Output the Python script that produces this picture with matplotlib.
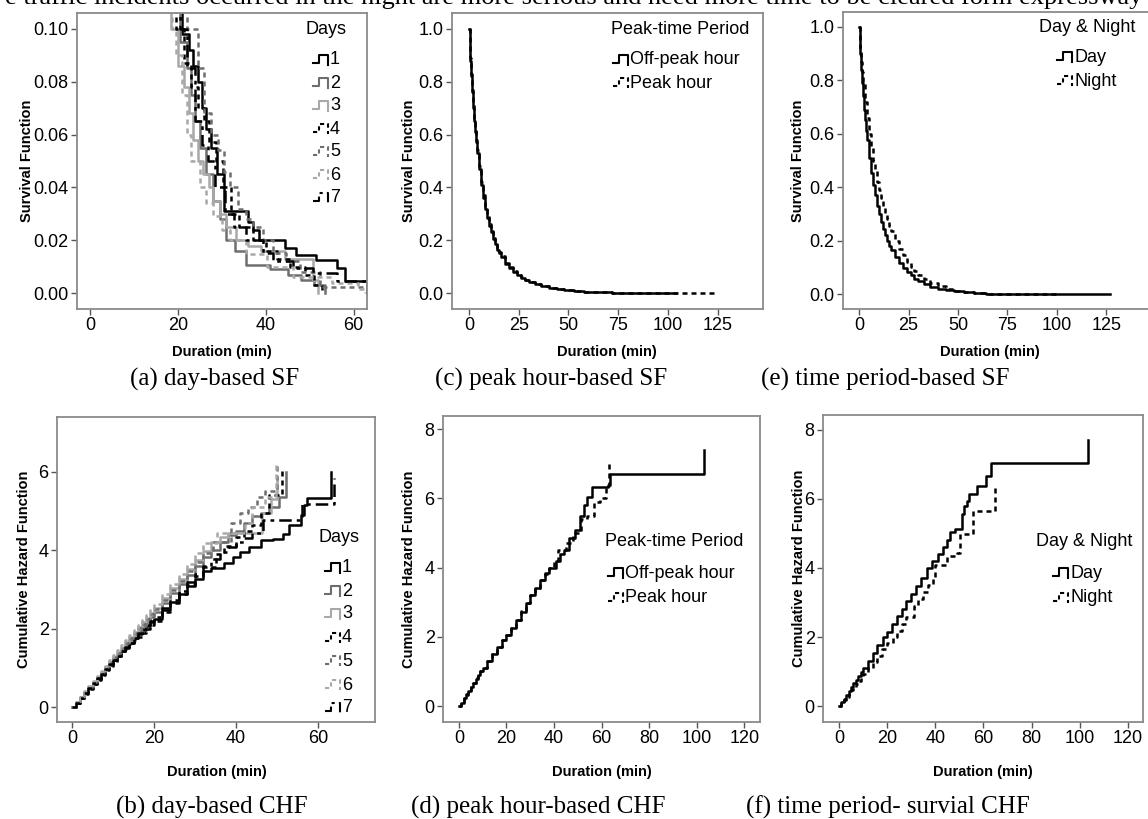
import matplotlib.pyplot as plt

plt.rcParams['font.family'] = ['Liberation Sans', 'DejaVu Sans']

W, H = 1148, 819

# ---- (a) day-based survival function (zoomed 0-0.10) ----
day_labels = ['1', '2', '3', '4', '5', '6', '7']
sf_day_t = [
    [17, 21, 22.5, 23.5, 24.5, 25.5, 26.5, 27.5, 29, 30.5, 36, 37, 38.5, 44.3, 47, 51.4, 56.2, 58, 63.0],
    [17, 20.5, 22, 23, 24, 25, 26.5, 28, 29.5, 31, 33, 35.5, 41, 45, 48, 51, 53.5],
    [16, 18.5, 20, 21.5, 22.5, 23.5, 24.5, 25.7, 27, 28, 29.5, 31, 33.3, 36, 39, 44.3, 50.8, 52],
    [17, 19.5, 21.5, 23, 24.5, 26, 27, 28.7, 30.3, 32, 34, 37, 40, 42.5, 45.5, 49, 51, 52.7],
    [19, 22, 24.6, 26, 27.5, 29.2, 30.5, 31.8, 33.7, 35.5, 37, 39.4, 41.6, 44.7, 47.7, 52.3, 63.0],
    [16, 18.6, 19.5, 21, 22, 23.1, 25, 26.5, 28, 30, 31.8, 35.6, 40.2, 46.2, 55, 61, 62.5],
    [18, 20.5, 22, 24, 25.5, 26.9, 28.5, 30.8, 32.8, 35.6, 39.4, 41.6, 46.2, 50.8, 56.2, 63.0],
]
sf_day_s = [
    [0.12, 0.098, 0.092, 0.086, 0.08, 0.07, 0.062, 0.055, 0.045, 0.031, 0.027, 0.024, 0.02, 0.017, 0.0145, 0.0125, 0.0095, 0.0045, 0.0],
    [0.12, 0.095, 0.085, 0.075, 0.065, 0.055, 0.045, 0.035, 0.028, 0.02, 0.016, 0.0105, 0.009, 0.007, 0.005, 0.003, 0.0],
    [0.12, 0.10, 0.086, 0.078, 0.068, 0.058, 0.05, 0.045, 0.04, 0.035, 0.03, 0.025, 0.02, 0.018, 0.016, 0.0131, 0.005, 0.0],
    [0.12, 0.10, 0.087, 0.078, 0.07, 0.065, 0.057, 0.05, 0.04, 0.03, 0.025, 0.02, 0.016, 0.013, 0.01, 0.007, 0.003, 0.0],
    [0.12, 0.10, 0.085, 0.068, 0.06, 0.054, 0.046, 0.04, 0.032, 0.028, 0.025, 0.02, 0.015, 0.012, 0.008, 0.0025, 0.0025],
    [0.12, 0.10, 0.09, 0.075, 0.06, 0.05, 0.04, 0.034, 0.029, 0.024, 0.02, 0.0148, 0.0099, 0.0061, 0.004, 0.0014, 0.0],
    [0.12, 0.10, 0.085, 0.065, 0.056, 0.05, 0.04, 0.03, 0.025, 0.02, 0.015, 0.012, 0.0095, 0.0075, 0.0045, 0.0],
]

# ---- (b) day-based cumulative hazard ----
chf_day_t = [
    [0, 1, 2, 3, 4, 5, 6, 7, 8, 9, 10, 11, 12, 13, 14, 15, 16, 17, 18, 19, 20, 22, 24, 26, 28, 30, 32, 34, 37, 39.3, 41, 43.2, 46, 49, 51.4, 53, 55.8, 56.5, 57.3, 63.2],
    [0, 1, 2, 3, 4, 5, 6, 7, 8, 9, 10, 11, 12, 13, 14, 15, 16, 17, 18, 19, 20, 22, 24, 26, 28, 30, 32, 34, 36, 38, 40, 42, 44, 46, 48, 50.5, 52.2],
    [0, 1, 2, 3, 4, 5, 6, 7, 8, 9, 10, 11, 12, 13, 14, 15, 16, 17, 18, 19, 20, 22, 24, 26, 28, 30, 32, 34, 36, 38, 41, 46.3, 48.5, 50.0],
    [0, 1, 2, 3, 4, 5, 6, 7, 8, 9, 10, 11, 12, 13, 14, 15, 16, 17, 18, 19, 20, 22, 24, 26, 28, 30, 32, 35, 37, 40, 42, 44, 46, 48, 51.1],
    [0, 1, 2, 3, 4, 5, 6, 7, 8, 9, 10, 11, 12, 13, 14, 15, 16, 17, 18, 19, 20, 22, 24, 26, 28, 30, 32, 34.4, 38.9, 41, 43, 45, 47, 49.9],
    [0, 1, 2, 3, 4, 5, 6, 7, 8, 9, 10, 11, 12, 13, 14, 15, 16, 17, 18, 19, 20, 22, 24, 26, 28, 30, 32, 35.3, 42.2, 44, 47, 49.8],
    [0, 1, 2, 3, 4, 5, 6, 7, 8, 9, 10, 11, 12, 13, 14, 15, 16, 17, 18, 19, 20, 22, 24, 26, 28, 30, 32, 34, 36, 38, 40, 42, 44, 46.7, 56, 64],
]
chf_day_h = [
    [0, 0.1, 0.23, 0.36, 0.48, 0.6, 0.72, 0.85, 0.97, 1.08, 1.2, 1.3, 1.42, 1.52, 1.63, 1.75, 1.86, 1.96, 2.06, 2.16, 2.26, 2.47, 2.67, 2.88, 3.08, 3.27, 3.46, 3.55, 3.68, 3.83, 3.95, 4.08, 4.25, 4.3, 4.42, 4.65, 4.9, 5.15, 5.33, 6.0],
    [0, 0.12, 0.25, 0.38, 0.5, 0.62, 0.74, 0.86, 0.98, 1.1, 1.22, 1.34, 1.46, 1.58, 1.7, 1.83, 1.95, 2.07, 2.18, 2.3, 2.42, 2.66, 2.9, 3.13, 3.37, 3.6, 3.82, 4.02, 4.2, 4.38, 4.5, 4.7, 4.88, 4.95, 5.1, 5.35, 6.0],
    [0, 0.12, 0.26, 0.39, 0.52, 0.65, 0.78, 0.9, 1.03, 1.16, 1.28, 1.4, 1.52, 1.65, 1.78, 1.92, 2.04, 2.16, 2.28, 2.4, 2.52, 2.78, 3.03, 3.27, 3.52, 3.76, 3.98, 4.2, 4.35, 4.45, 4.45, 4.95, 5.3, 5.85],
    [0, 0.1, 0.22, 0.34, 0.46, 0.58, 0.7, 0.82, 0.94, 1.05, 1.16, 1.27, 1.38, 1.49, 1.6, 1.7, 1.8, 1.9, 2.0, 2.1, 2.2, 2.42, 2.65, 2.88, 3.12, 3.35, 3.58, 3.9, 4.1, 4.35, 4.5, 4.65, 4.95, 5.4, 6.1],
    [0, 0.12, 0.25, 0.38, 0.51, 0.64, 0.77, 0.89, 1.02, 1.14, 1.27, 1.39, 1.51, 1.64, 1.76, 1.89, 2.01, 2.13, 2.25, 2.37, 2.49, 2.74, 2.98, 3.22, 3.46, 3.7, 3.94, 4.2, 4.7, 4.95, 5.1, 5.35, 5.5, 6.2],
    [0, 0.13, 0.27, 0.41, 0.54, 0.67, 0.8, 0.93, 1.06, 1.19, 1.32, 1.45, 1.58, 1.71, 1.84, 1.97, 2.1, 2.23, 2.36, 2.49, 2.62, 2.88, 3.14, 3.4, 3.66, 3.92, 4.18, 4.45, 4.7, 5.1, 5.35, 6.25],
    [0, 0.11, 0.23, 0.36, 0.49, 0.61, 0.73, 0.85, 0.97, 1.09, 1.2, 1.31, 1.42, 1.53, 1.64, 1.76, 1.88, 1.99, 2.1, 2.2, 2.3, 2.52, 2.74, 2.96, 3.18, 3.4, 3.6, 3.78, 3.95, 4.08, 4.2, 4.32, 4.45, 4.76, 5.17, 5.85],
]

# ---- (c) peak-hour survival function ----
peak_labels = ['Off-peak hour', 'Peak hour']
sf_peak_t = [
    [0, 0.5, 1, 1.5, 2, 2.5, 3, 3.5, 4, 5, 6, 7, 8, 9, 10, 11, 12, 13, 14, 15, 16, 18, 20, 22, 24, 26, 28, 30, 33, 36, 40, 44, 48, 53, 58, 64, 72, 85, 104],
    [0, 0.5, 1, 1.5, 2, 2.5, 3, 3.5, 4, 5, 6, 7, 8, 9, 10, 11, 12, 13, 14, 15, 16, 18, 20, 22, 24, 26, 28, 30, 33, 36, 40, 44, 48, 53, 58, 64, 72, 85, 125],
]
sf_peak_s = [
    [1.0, 0.88, 0.82, 0.76, 0.70, 0.65, 0.61, 0.57, 0.53, 0.47, 0.41, 0.36, 0.32, 0.285, 0.255, 0.23, 0.205, 0.185, 0.165, 0.15, 0.135, 0.11, 0.095, 0.08, 0.068, 0.058, 0.05, 0.042, 0.033, 0.026, 0.019, 0.014, 0.01, 0.007, 0.005, 0.003, 0.002, 0.001, 0.0],
    [1.0, 0.89, 0.83, 0.77, 0.71, 0.66, 0.62, 0.58, 0.54, 0.48, 0.42, 0.37, 0.33, 0.29, 0.26, 0.235, 0.21, 0.19, 0.17, 0.155, 0.14, 0.115, 0.098, 0.083, 0.07, 0.06, 0.051, 0.043, 0.034, 0.027, 0.02, 0.015, 0.011, 0.008, 0.005, 0.003, 0.002, 0.001, 0.001],
]

# ---- (d) peak-hour cumulative hazard ----
chf_peak_t = [
    [0, 1, 2, 3, 4, 5, 6, 7, 8, 9, 10, 12, 14, 16, 18, 20, 22, 24, 26, 28, 30, 32, 34, 36, 38, 40.7, 42.5, 44, 46.3, 48.8, 51, 52.6, 54, 55.9, 62.5, 63.5, 103.2],
    [0, 1, 2, 3, 4, 5, 6, 7, 8, 9, 10, 12, 14, 16, 18, 20, 22, 24, 26, 28, 30, 32, 34, 36, 38, 40, 41.5, 45, 48, 51.5, 54, 57, 59.3, 62, 63.1],
]
chf_peak_h = [
    [0, 0.1, 0.22, 0.33, 0.45, 0.56, 0.68, 0.79, 0.9, 1.0, 1.1, 1.3, 1.5, 1.7, 1.9, 2.05, 2.25, 2.48, 2.72, 2.98, 3.2, 3.42, 3.65, 3.85, 4.0, 4.2, 4.4, 4.5, 4.85, 5.1, 5.5, 5.8, 6.05, 6.33, 6.4, 6.7, 7.4],
    [0, 0.1, 0.22, 0.34, 0.46, 0.57, 0.68, 0.8, 0.9, 1.0, 1.1, 1.3, 1.52, 1.72, 1.9, 2.05, 2.27, 2.5, 2.74, 2.98, 3.2, 3.42, 3.63, 3.83, 4.0, 4.2, 4.5, 4.7, 5.0, 5.4, 5.5, 5.9, 6.0, 6.35, 7.05],
]

# ---- (e) day/night survival function ----
dn_labels = ['Day', 'Night']
sf_dn_t = [
    [0, 0.5, 1, 1.5, 2, 2.5, 3, 3.5, 4, 5, 6, 7, 8, 9, 10, 11, 12, 13, 14, 15, 16, 18, 20, 22, 24, 26, 28, 30, 33, 36, 40, 44, 48, 53, 58, 64, 75, 127],
    [0, 0.5, 1, 1.5, 2, 3, 4, 5, 6, 7, 8, 9, 10, 11, 12, 13, 14, 15, 16, 18, 20, 22, 24, 26, 28, 30, 33, 36, 40, 44, 48, 53, 58, 64, 100],
]
sf_dn_s = [
    [1.0, 0.9, 0.84, 0.79, 0.74, 0.69, 0.65, 0.61, 0.575, 0.51, 0.455, 0.41, 0.37, 0.33, 0.3, 0.27, 0.245, 0.22, 0.2, 0.18, 0.165, 0.14, 0.115, 0.098, 0.082, 0.07, 0.058, 0.048, 0.037, 0.028, 0.02, 0.014, 0.01, 0.007, 0.004, 0.002, 0.001, 0.001],
    [1.0, 0.92, 0.87, 0.83, 0.79, 0.72, 0.66, 0.6, 0.55, 0.5, 0.46, 0.42, 0.39, 0.36, 0.33, 0.3, 0.28, 0.255, 0.235, 0.2, 0.17, 0.145, 0.12, 0.1, 0.085, 0.07, 0.055, 0.042, 0.03, 0.02, 0.013, 0.008, 0.005, 0.002, 0.001],
]

# ---- (f) day/night cumulative hazard ----
chf_dn_t = [
    [0, 1, 2, 3, 4, 5, 6, 7, 8, 9, 10, 12, 14, 16, 18.4, 20, 22, 24, 26, 28, 30, 32, 34, 36.4, 38.5, 41, 43, 45, 46, 48.2, 51, 52, 53, 54, 57.4, 61, 63, 103.5],
    [0, 1, 2, 3, 4, 5, 6, 7, 8, 9, 10, 12, 14, 16, 18, 20, 22.3, 24, 26, 28, 31, 33, 35, 37, 39, 40, 45, 48.9, 50.2, 55.8, 64.8],
]
chf_dn_h = [
    [0, 0.11, 0.22, 0.33, 0.44, 0.55, 0.66, 0.77, 0.88, 1.0, 1.1, 1.32, 1.54, 1.76, 2.0, 2.16, 2.38, 2.6, 2.82, 3.03, 3.25, 3.47, 3.7, 4.0, 4.2, 4.4, 4.6, 4.8, 5.05, 5.13, 5.55, 5.8, 5.95, 6.15, 6.36, 6.65, 7.04, 7.72],
    [0, 0.09, 0.18, 0.27, 0.36, 0.46, 0.55, 0.64, 0.73, 0.82, 0.92, 1.1, 1.28, 1.46, 1.64, 1.82, 2.0, 2.17, 2.38, 2.58, 2.9, 3.1, 3.3, 3.52, 3.72, 4.1, 4.35, 4.42, 4.97, 5.65, 6.34],
]

BLACK, DARK, LIGHT = '#000000', '#6e6e6e', '#a8a8a8'
DOT = (0, (2, 1.6))
day_styles = [(BLACK, '-'), (DARK, '-'), (LIGHT, '-'), (BLACK, DOT), (DARK, DOT), (LIGHT, DOT),
              (BLACK, (0, (5, 2, 1.5, 2)))]
two_styles = [(BLACK, '-'), (BLACK, DOT)]

TICK_FS = 13
LEG_FS = 13
LAB_FS = 10.5
CAP_FS = 18

fig = plt.figure(figsize=(W / 100, H / 100), dpi=100)


def make_ax(box, xlim, ylim, xticks, yticks, yfmt, ylabel, xlab_px, ylab_x):
    l, t, r, b = box
    ax = fig.add_axes([l / W, 1 - b / H, (r - l) / W, (b - t) / H])
    ax.set_xlim(*xlim)
    ax.set_ylim(*ylim)
    ax.set_xticks(xticks)
    ax.set_yticks(yticks)
    ax.set_yticklabels([yfmt.format(v) for v in yticks])
    for s in ax.spines.values():
        s.set_color('#8a8a8a')
        s.set_linewidth(1.3)
    ax.tick_params(direction='out', length=4, width=1, color='#555555',
                   labelsize=TICK_FS, pad=2)
    ax.set_ylabel(ylabel, fontsize=LAB_FS, fontweight='bold')
    ax.set_xlabel('Duration (min)', fontsize=LAB_FS, fontweight='bold')
    ax.xaxis.set_label_coords((xlab_px[0] - l) / (r - l), (b - xlab_px[1]) / (b - t))
    ax.yaxis.set_label_coords((ylab_x - l) / (r - l), 0.5)
    return ax


def legend_block(title, tx, ty, labels, styles, sx, ys):
    fig.text(tx / W, 1 - ty / H, title, fontsize=LEG_FS, va='center', ha='left')
    for lab, (c, ls), y in zip(labels, styles, ys):
        xs = [sx, sx + 6, sx + 6, sx + 15, sx + 15]
        yy = [y + 3, y + 3, y - 5, y - 5, y + 5]
        fig.add_artist(plt.Line2D([v / W for v in xs], [1 - v / H for v in yy],
                                  color=c, linestyle=ls, linewidth=1.5,
                                  transform=fig.transFigure))
        fig.text((sx + 17) / W, 1 - y / H, lab, fontsize=LEG_FS, va='center', ha='left')


def caption(x, y, s):
    fig.text(x / W, 1 - y / H, s, fontsize=CAP_FS, family=['Liberation Serif', 'DejaVu Serif'],
             ha='center', va='center')


# partially cut line of body text at the top (cut in the reference too)
fig.text(0.5, 1 - 4 / H, 'e traffic incidents occurred in the night are more serious and need more time '
         'to be cleared form expressway', fontsize=19,
         family=['Liberation Serif', 'DejaVu Serif'], ha='center', va='baseline')

# (a)
ax = make_ax((77, 13, 367, 309), (-2.95, 63.05), (-0.006, 0.106), [0, 20, 40, 60],
             [0.0, 0.02, 0.04, 0.06, 0.08, 0.10], '{:.2f}', 'Survival Function',
             (222, 345), 34)
for t, s, (c, ls) in zip(sf_day_t, sf_day_s, day_styles):
    ax.step(t, s, where='post', color=c, linestyle=ls, linewidth=1.8)
legend_block('Days', 306, 29, day_labels, day_styles, 313, [60, 83, 106, 129, 152, 175, 198])
caption(215, 379, '(a) day-based SF')

# (c)
ax = make_ax((452, 13, 763, 309), (-8.5, 147.7), (-0.06, 1.06), [0, 25, 50, 75, 100, 125],
             [0.0, 0.2, 0.4, 0.6, 0.8, 1.0], '{:.1f}', 'Survival Function',
             (607, 345), 416)
for t, s, (c, ls) in zip(sf_peak_t, sf_peak_s, two_styles):
    ax.step(t, s, where='post', color=c, linestyle=ls, linewidth=1.8)
legend_block('Peak-time Period', 611, 30, peak_labels, two_styles, 613, [60, 83])
caption(551, 379, '(c) peak hour-based SF')

# (e)
ax = make_ax((843, 12, 1152, 309), (-8.1, 148), (-0.056, 1.056), [0, 25, 50, 75, 100, 125],
             [0.0, 0.2, 0.4, 0.6, 0.8, 1.0], '{:.1f}', 'Survival Function',
             (990, 345), 805)
for t, s, (c, ls) in zip(sf_dn_t, sf_dn_s, two_styles):
    ax.step(t, s, where='post', color=c, linestyle=ls, linewidth=1.8)
legend_block('Day & Night', 1039, 27, dn_labels, two_styles, 1057, [57, 81])
caption(885, 379, '(e) time period-based SF')

# (b)
ax = make_ax((57, 417, 375, 722), (-3.66, 73.9), (-0.38, 7.4), [0, 20, 40, 60],
             [0, 2, 4, 6], '{:d}', 'Cumulative Hazard Function', (217, 765), 31)
for t, h, (c, ls) in zip(chf_day_t, chf_day_h, day_styles):
    ax.step(t, h, where='post', color=c, linestyle=ls, linewidth=1.8)
legend_block('Days', 319, 537, day_labels, day_styles, 325, [568, 591, 614, 638, 661, 685, 708])
caption(212, 807, '(b) day-based CHF')

# (d)
ax = make_ax((443, 416, 760, 722), (-6.7, 126.6), (-0.46, 8.38), [0, 20, 40, 60, 80, 100, 120],
             [0, 2, 4, 6, 8], '{:d}', 'Cumulative Hazard Function', (602, 765), 416)
for t, h, (c, ls) in zip(chf_peak_t, chf_peak_h, two_styles):
    ax.step(t, h, where='post', color=c, linestyle=ls, linewidth=1.8)
legend_block('Peak-time Period', 605, 542, peak_labels, two_styles, 608, [573, 598])
caption(538, 807, '(d) peak hour-based CHF')

# (f)
ax = make_ax((823, 415, 1143, 722), (-6.6, 126.2), (-0.46, 8.43), [0, 20, 40, 60, 80, 100, 120],
             [0, 2, 4, 6, 8], '{:d}', 'Cumulative Hazard Function', (983, 765), 806)
for t, h, (c, ls) in zip(chf_dn_t, chf_dn_h, two_styles):
    ax.step(t, h, where='post', color=c, linestyle=ls, linewidth=1.8)
legend_block('Day & Night', 1036, 542, dn_labels, two_styles, 1053, [573, 598])
caption(888, 807, '(f) time period- survial CHF')

fig.savefig('out.png', dpi=100)
